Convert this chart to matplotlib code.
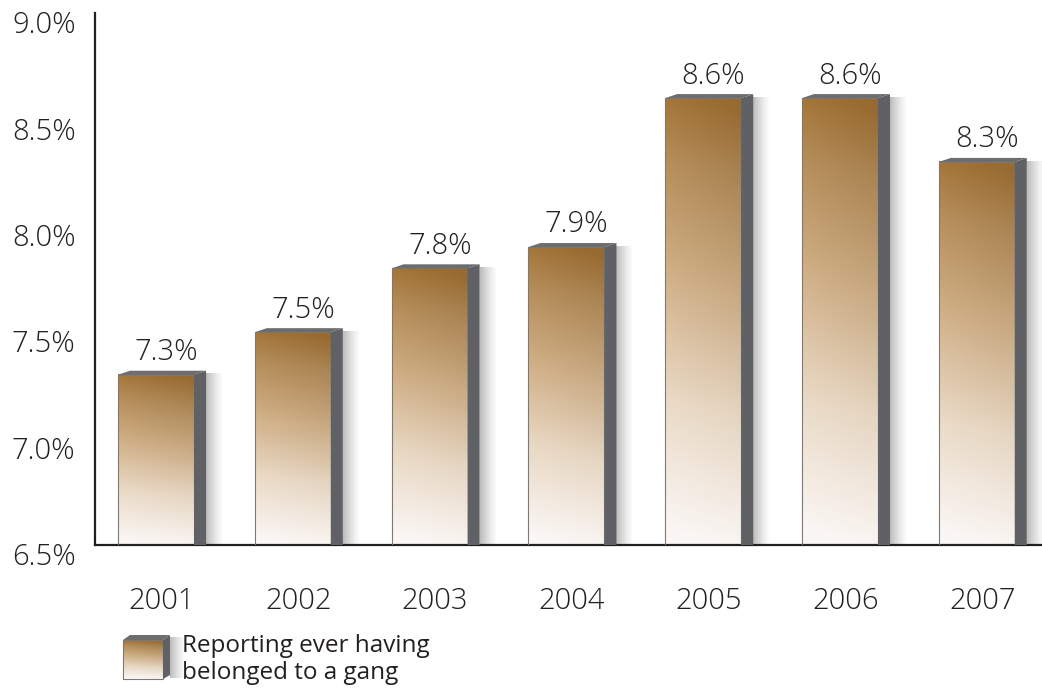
import matplotlib.pyplot as plt
import numpy as np
from matplotlib.patches import Polygon, Rectangle
from matplotlib.transforms import ScaledTranslation

plt.rcParams['font.family'] = ['Open Sans', 'DejaVu Sans']
plt.rcParams['font.weight'] = 'light'

years = ['2001', '2002', '2003', '2004', '2005', '2006', '2007']
values = [7.3, 7.5, 7.8, 7.9, 8.6, 8.6, 8.3]
yticks = [6.5, 7.0, 7.5, 8.0, 8.5, 9.0]
legend_label = 'Reporting ever having\nbelonged to a gang'

txt = '#231f20'
side_col = '#606164'
top_col = '#6d6d70'


def gradient(n=100, m=40):
    # mostly vertical: near white at the bottom to brown at the top,
    # a little darker towards the right edge
    ty = np.linspace(0, 1, n)[:, None]
    tx = np.linspace(0, 1, m)[None, :]
    s = np.clip(ty + 0.05 * (tx - 0.5), 0, 1)
    stops = [0.0, 0.3, 0.6, 0.85, 1.0]
    cols = np.array([[251, 247, 245], [234, 218, 198], [207, 174, 132],
                     [180, 140, 88], [162, 114, 52]]) / 255
    img = np.stack([np.interp(s, stops, cols[:, k]) for k in range(3)], axis=-1)
    dark = (1 - 0.07 * tx * ty)[..., None]
    return img * dark


def shadow(m=30):
    a = np.linspace(0.5, 0.0, m) ** 1.3
    img = np.zeros((1, m, 4))
    img[..., :3] = 0.35
    img[..., 3] = a
    return img


fig = plt.figure(figsize=(10.42, 6.93), dpi=100)
ax = fig.add_axes([95 / 1042, 148 / 693, 947 / 1042, 532 / 693])
x = np.arange(len(years))
w = 0.556
dx = 0.088
dy = 0.019
grad = gradient()
shd = shadow()

for xi, v in zip(x, values):
    xl, xr = xi - w / 2, xi + w / 2
    ax.imshow(shd, extent=[xr + dx, xr + dx + 0.13, 6.5, v + dy - 0.015],
              origin='lower', aspect='auto', interpolation='bilinear', zorder=1.5)
    ax.imshow(grad, extent=[xl, xr, 6.5, v], origin='lower', aspect='auto',
              interpolation='bilinear', zorder=2)
    ax.add_patch(Rectangle((xl, 6.5), w, v - 6.5, fill=False, edgecolor='#7a7a7a',
                           lw=0.8, zorder=3))
    ax.add_patch(Polygon([(xr, 6.5), (xr + dx, 6.5), (xr + dx, v + dy), (xr, v)],
                         closed=True, facecolor=side_col, edgecolor='none', zorder=3))
    ax.add_patch(Polygon([(xl, v), (xl + dx, v + dy), (xr + dx, v + dy), (xr, v)],
                         closed=True, facecolor=top_col, edgecolor='none', zorder=3))
    ax.text(xi + 0.075, v + 0.105, f'{v:.1f}%', ha='center', va='center',
            fontsize=21, color=txt)

ax.set_xlim(-0.446, 6.477)
ax.set_ylim(6.5, 9.0)
ax.set_xticks(x + 0.04, years)
ax.set_yticks(yticks, [f'{t:.1f}%' for t in yticks])
ax.tick_params(axis='x', length=0, pad=30, labelsize=21, labelcolor=txt)
ax.tick_params(axis='y', length=0, pad=14, labelsize=21, labelcolor=txt)
for lab in ax.get_yticklabels():
    lab.set_transform(lab.get_transform() + ScaledTranslation(0, -9 / 100, fig.dpi_scale_trans))
for s in ['top', 'right']:
    ax.spines[s].set_visible(False)
for s in ['left', 'bottom']:
    ax.spines[s].set_color(txt)
    ax.spines[s].set_linewidth(1.6)

# legend drawn in pixel coordinates
lax = fig.add_axes([0, 0, 1, 1])
lax.axis('off')
lax.imshow(shd, extent=[170, 186, 678, 637], origin='lower', aspect='auto',
           interpolation='bilinear', zorder=1)
lax.imshow(grad, extent=[123, 163, 679, 640], origin='lower', aspect='auto',
           interpolation='bilinear', zorder=2)
lax.add_patch(Rectangle((123, 640), 40, 39, fill=False, edgecolor='#7a7a7a', lw=0.8, zorder=3))
lax.add_patch(Polygon([(163, 679), (170, 675), (170, 635), (163, 640)], closed=True,
                      facecolor=side_col, edgecolor='none', zorder=3))
lax.add_patch(Polygon([(123, 640), (130, 635), (170, 635), (163, 640)], closed=True,
                      facecolor=top_col, edgecolor='none', zorder=3))
lax.text(182, 634, legend_label, ha='left', va='top', fontsize=17.5, color=txt,
         fontweight='normal', linespacing=1.15)
lax.set_xlim(0, 1042)
lax.set_ylim(693, 0)

fig.savefig('out.png', dpi=100)
